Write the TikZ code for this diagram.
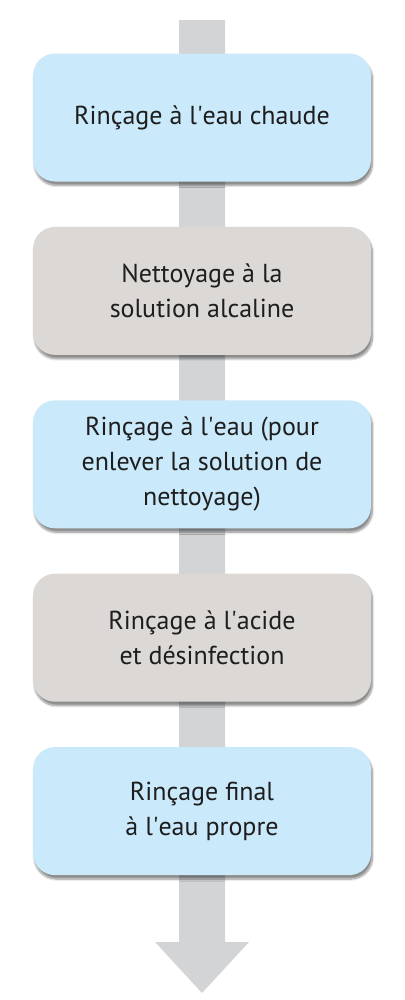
\documentclass[tikz,border=0pt]{standalone}
\usepackage{fontspec}
\setmainfont{PT Sans}
\definecolor{rinseblue}{RGB}{202, 233, 250}
\definecolor{washgrey}{RGB}{220, 216, 213}
\definecolor{flowgrey}{RGB}{211, 212, 214}
\definecolor{inkblack}{RGB}{30, 30, 30}
\usetikzlibrary{positioning, calc, shadows.blur}
\newcommand{\apos}{\textquotesingle}

\begin{document}
\begin{tikzpicture}[x=1bp, y=-1bp,
    node distance=45bp,
    stepbox/.style={rounded corners=22bp, minimum width=338bp, minimum height=128bp,
      align=center, text=inkblack, font=\fontsize{26bp}{35bp}\selectfont,
      blur shadow={shadow xshift=1.5bp, shadow yshift=-4bp, shadow blur steps=8,
        shadow blur extra rounding=2bp, shadow opacity=45}},
    bluestep/.style={stepbox, fill=rinseblue},
    greystep/.style={stepbox, fill=washgrey}]
  \useasboundingbox (0,0) rectangle (404,1000);

  % --- big flow arrow behind the steps ---
  \coordinate (top) at (202,20);
  \coordinate (tip) at (202,993);
  \fill[flowgrey] ($(top)+(-23,0)$) -- ($(top)+(23,0)$) -- ($(tip)+(23,-51)$)
    -- ($(tip)+(47,-51)$) -- (tip) -- ($(tip)+(-47,-51)$) -- ($(tip)+(-23,-51)$) -- cycle;

  % --- steps ---
  \node[bluestep] (hotrinse) at (202,117.5) {Rinçage à l\apos eau chaude};
  \node[greystep, below=of hotrinse] (alkali) {Nettoyage à la\\solution alcaline};
  \node[bluestep, below=of alkali] (waterrinse) {Rinçage à l\apos eau (pour\\enlever la solution de\\nettoyage)};
  \node[greystep, below=of waterrinse] (acid) {Rinçage à l\apos acide\\et désinfection};
  \node[bluestep, below=of acid] (finalrinse) {Rinçage final\\à l\apos eau propre};
\end{tikzpicture}
\end{document}
